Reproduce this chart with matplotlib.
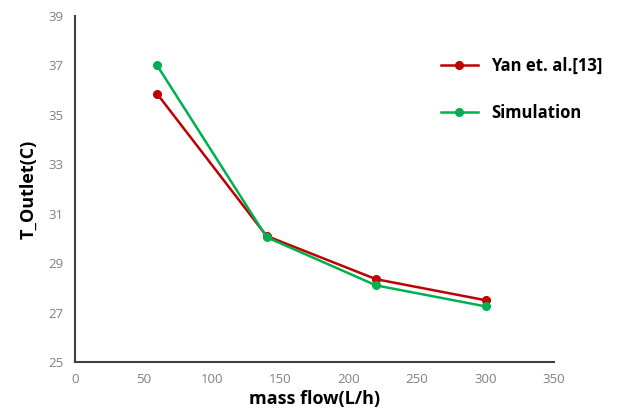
import matplotlib.pyplot as plt

plt.rcParams['font.family'] = ['Open Sans', 'DejaVu Sans']

flow = [60, 140, 220, 300]
t_yan = [35.85, 30.1, 28.35, 27.5]
t_sim = [37.0, 30.05, 28.1, 27.25]

red = "#C00000"
green = "#00B050"

fig = plt.figure(figsize=(6.22, 4.13), dpi=100)
ax = fig.add_axes([0.1206, 0.1235, 0.77, 0.8378])

ax.plot(flow, t_yan, color=red, lw=1.8, marker="o", ms=5.5, label="Yan et. al.[13]")
ax.plot(flow, t_sim, color=green, lw=1.8, marker="o", ms=5.5, label="Simulation")

ax.set_xlim(0, 350)
ax.set_ylim(25, 39)
ax.set_xticks(range(0, 351, 50))
ax.set_yticks(range(25, 40, 2))

for side in ["top", "right"]:
    ax.spines[side].set_visible(False)
for side in ["left", "bottom"]:
    ax.spines[side].set_color("#404040")
    ax.spines[side].set_linewidth(1.5)

ax.tick_params(length=0, pad=8, labelsize=9.5, labelcolor="#808080")
ax.set_xlabel("mass flow(L/h)", fontsize=13, fontweight="bold", labelpad=3)
ax.set_ylabel("T_Outlet(C)", fontsize=13, fontweight="bold", labelpad=8)

ax.legend(loc="upper left", bbox_to_anchor=(0.75, 0.90), frameon=False,
          prop={"size": 12, "weight": "bold"}, handlelength=2.2,
          labelspacing=1.7, borderaxespad=0)

fig.savefig("out.png", dpi=100)
